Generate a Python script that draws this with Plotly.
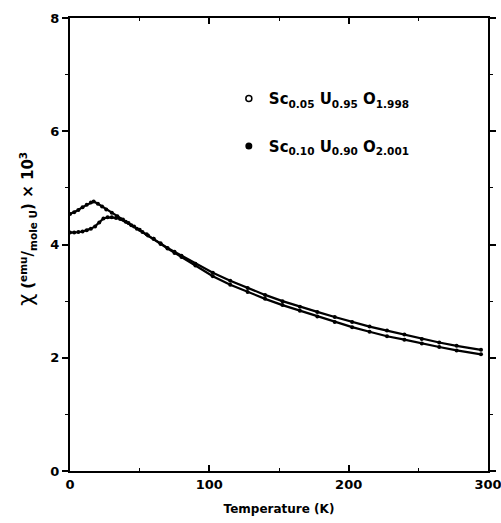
import plotly.graph_objects as go

# Series A: Sc0.05 U0.95 O1.998 (open circles)
temp_a = [0, 3, 6, 9, 12, 15, 17, 20, 23, 26, 30, 34, 38, 42, 46, 50, 55, 60, 65, 70, 75, 80, 90,
          102.5, 115, 127.5, 140, 152.5, 165, 177.5, 190, 202.5, 215, 227.5, 240, 252.5, 265, 277.5, 295]
chi_a = [4.54, 4.57, 4.61, 4.66, 4.70, 4.74, 4.76, 4.72, 4.67, 4.62, 4.56, 4.50, 4.44, 4.38, 4.32, 4.26,
         4.18, 4.10, 4.02, 3.94, 3.87, 3.80, 3.66,
         3.50, 3.36, 3.23, 3.11, 3.00, 2.90, 2.81, 2.72, 2.63, 2.55, 2.48, 2.41, 2.33, 2.27, 2.21, 2.14]

# Series B: Sc0.10 U0.90 O2.001 (filled circles)
temp_b = [0, 3, 6, 9, 12, 15, 18, 21, 24, 27, 30, 33, 36, 40, 44, 48, 52, 56, 60, 65, 70, 75, 80, 90,
          102.5, 115, 127.5, 140, 152.5, 165, 177.5, 190, 202.5, 215, 227.5, 240, 252.5, 265, 277.5, 295]
chi_b = [4.21, 4.21, 4.22, 4.23, 4.25, 4.28, 4.32, 4.39, 4.46, 4.48, 4.48, 4.47, 4.45, 4.40, 4.34, 4.28,
         4.22, 4.16, 4.10, 4.01, 3.93, 3.85, 3.78, 3.63,
         3.44, 3.29, 3.16, 3.04, 2.93, 2.83, 2.73, 2.63, 2.54, 2.46, 2.38, 2.32, 2.25, 2.19, 2.13, 2.06]

name_a = "<b>Sc<sub>0.05</sub> U<sub>0.95</sub> O<sub>1.998</sub></b>"
name_b = "<b>Sc<sub>0.10</sub> U<sub>0.90</sub> O<sub>2.001</sub></b>"

x_ticks = [0, 100, 200, 300]
y_ticks = [0, 2, 4, 6, 8]

x_title = "<b>Temperature (K)</b>"
y_title = "<span style='font-size:21px'>χ</span> <b>(<sup>emu</sup>/<sub>mole U</sub>) × 10<sup>3</sup></b>"

FONT = "DejaVu Sans"

fig = go.Figure()
fig.add_trace(go.Scatter(x=temp_a, y=chi_a, mode="lines+markers", showlegend=False,
                         line=dict(color="black", width=2.2),
                         marker=dict(symbol="circle", size=4, color="black")))
fig.add_trace(go.Scatter(x=temp_b, y=chi_b, mode="lines+markers", showlegend=False,
                         line=dict(color="black", width=2.2),
                         marker=dict(symbol="circle", size=4, color="black")))
# legend-only entries
fig.add_trace(go.Scatter(x=[None], y=[None], mode="markers", name=name_a, legendgroup="a",
                         marker=dict(symbol="circle-open", size=6, color="black", line=dict(width=1.5))))
fig.add_trace(go.Scatter(x=[None], y=[None], mode="markers", name=name_b, legendgroup="b",
                         marker=dict(symbol="circle", size=7, color="black")))

axis_common = dict(showline=True, linecolor="black", linewidth=2, mirror="ticks",
                   showgrid=False, zeroline=False, ticklen=6, tickwidth=1.5, tickcolor="black",
                   automargin=False, ticklabeloverflow="allow",
                   tickfont=dict(family=FONT, size=13, color="black"))

fig.update_xaxes(range=[0, 300], tickvals=x_ticks, ticktext=[f"<b>{v}</b>" for v in x_ticks], ticks="inside",
                 minor=dict(dtick=50, ticks="inside", ticklen=3, tickcolor="black", tickwidth=1),
                 title=dict(text=x_title, font=dict(family=FONT, size=12, color="black"),
                            standoff=14),
                 **axis_common)
fig.update_yaxes(range=[0, 8], tickvals=y_ticks, ticktext=[f"<b>{v}</b>" for v in y_ticks], ticks="outside",
                 minor=dict(dtick=1, ticks="outside", ticklen=3, tickcolor="black", tickwidth=1),
                 **axis_common)

fig.add_annotation(text=y_title, xref="paper", yref="paper", x=-0.105, y=0.535,
                   textangle=-90, showarrow=False, xanchor="center", yanchor="middle",
                   font=dict(family=FONT, size=15, color="black"))

fig.update_layout(
    width=501, height=523,
    margin=dict(l=70, r=13, t=18, b=52),
    plot_bgcolor="white", paper_bgcolor="white",
    font=dict(family=FONT, color="black"),
    legend=dict(x=0.38, y=0.858, xanchor="left", yanchor="top", bgcolor="rgba(0,0,0,0)",
                font=dict(family=FONT, size=15, color="black"), tracegroupgap=25,
                itemwidth=30),
)

fig.write_html("out.html", config={"displayModeBar": False},
               post_script="document.body.style.margin='0';document.body.style.overflow='hidden';")
